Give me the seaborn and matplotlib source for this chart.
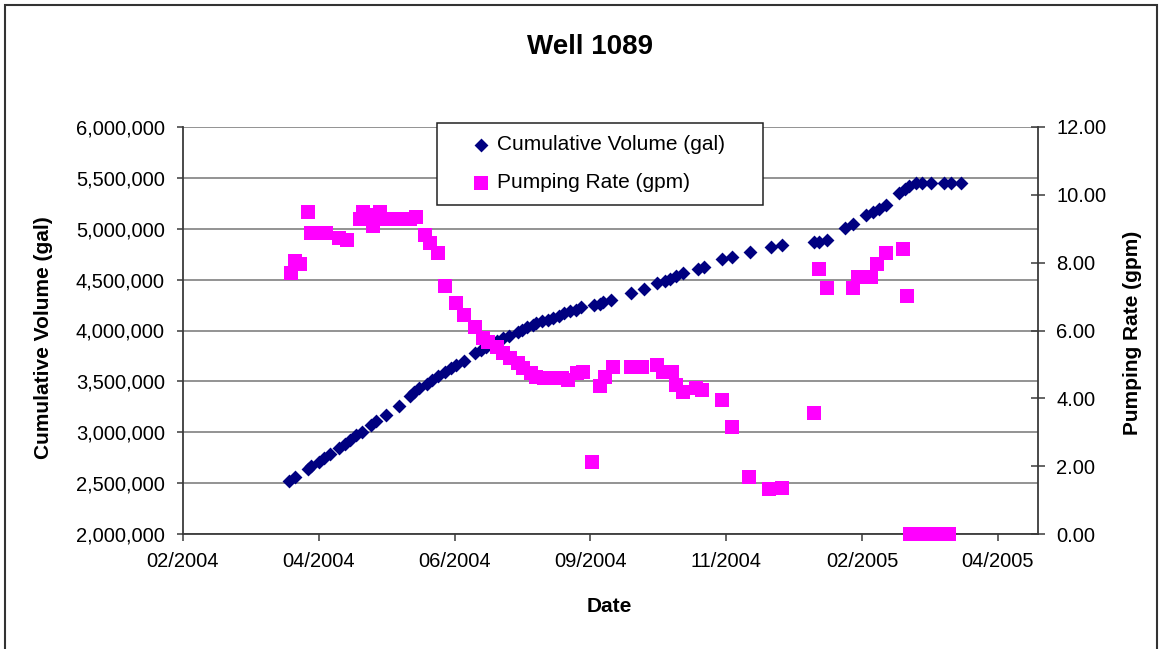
import matplotlib
matplotlib.use("Agg")
import matplotlib.pyplot as plt
import matplotlib.dates as mdates
from matplotlib.patches import Rectangle
from matplotlib.ticker import FuncFormatter, FixedLocator
import seaborn as sns
import pandas as pd
import numpy as np

# ---------------- data ----------------
vol_dates = ["2004-04-01", "2004-04-04", "2004-04-11", "2004-04-13", "2004-04-17", "2004-04-20",
             "2004-04-23", "2004-04-28", "2004-05-01", "2004-05-04", "2004-05-07", "2004-05-10",
             "2004-05-15", "2004-05-18", "2004-05-23", "2004-05-30", "2004-06-05", "2004-06-07",
             "2004-06-10", "2004-06-14", "2004-06-17", "2004-06-20", "2004-06-24", "2004-06-27",
             "2004-06-30", "2004-07-04", "2004-07-10", "2004-07-13", "2004-07-16", "2004-07-20",
             "2004-07-22", "2004-07-25", "2004-07-28", "2004-08-02", "2004-08-04", "2004-08-07",
             "2004-08-10", "2004-08-12", "2004-08-15", "2004-08-18", "2004-08-21", "2004-08-24",
             "2004-08-27", "2004-08-30", "2004-09-02", "2004-09-05", "2004-09-12", "2004-09-15",
             "2004-09-17", "2004-09-21", "2004-10-02", "2004-10-09", "2004-10-16", "2004-10-20",
             "2004-10-23", "2004-10-26", "2004-10-30", "2004-11-07", "2004-11-10", "2004-11-20",
             "2004-11-25", "2004-12-05", "2004-12-16", "2004-12-22", "2005-01-08", "2005-01-11",
             "2005-01-15", "2005-01-25", "2005-01-29", "2005-02-05", "2005-02-09", "2005-02-12",
             "2005-02-16", "2005-02-23", "2005-02-26", "2005-02-28", "2005-03-04", "2005-03-07",
             "2005-03-12", "2005-03-19", "2005-03-23", "2005-03-28"]
vol_values = [2521000, 2560000, 2639000, 2668000, 2708000, 2747000,
              2786000, 2845000, 2885000, 2924000, 2973000, 3002000,
              3071000, 3111000, 3170000, 3258000, 3356000, 3396000,
              3435000, 3474000, 3514000, 3553000, 3592000, 3631000,
              3661000, 3700000, 3779000, 3808000, 3838000, 3877000,
              3897000, 3926000, 3946000, 3985000, 4005000, 4034000,
              4054000, 4074000, 4093000, 4103000, 4123000, 4142000,
              4172000, 4192000, 4201000, 4231000, 4251000, 4260000,
              4280000, 4300000, 4369000, 4408000, 4467000, 4486000,
              4506000, 4536000, 4565000, 4604000, 4624000, 4703000,
              4722000, 4772000, 4821000, 4840000, 4870000, 4870000,
              4889000, 5007000, 5047000, 5135000, 5165000, 5194000,
              5233000, 5351000, 5391000, 5420000, 5450000, 5450000,
              5450000, 5450000, 5450000, 5450000]

rate_dates = ["2004-04-02", "2004-04-04", "2004-04-07", "2004-04-11", "2004-04-13", "2004-04-17",
              "2004-04-21", "2004-04-28", "2004-05-02", "2004-05-09", "2004-05-11", "2004-05-16",
              "2004-05-18", "2004-05-20", "2004-05-23", "2004-05-26", "2004-05-30", "2004-06-02",
              "2004-06-05", "2004-06-08", "2004-06-13", "2004-06-16", "2004-06-20", "2004-06-24",
              "2004-06-30", "2004-07-04", "2004-07-10", "2004-07-14", "2004-07-17", "2004-07-22",
              "2004-07-25", "2004-07-29", "2004-08-02", "2004-08-05", "2004-08-09", "2004-08-12",
              "2004-08-16", "2004-08-21", "2004-08-26", "2004-08-29", "2004-09-03", "2004-09-06",
              "2004-09-11", "2004-09-15", "2004-09-18", "2004-09-22", "2004-10-02", "2004-10-08",
              "2004-10-16", "2004-10-19", "2004-10-24", "2004-10-26", "2004-10-30", "2004-11-06",
              "2004-11-09", "2004-11-20", "2004-11-25", "2004-12-04", "2004-12-15", "2004-12-22",
              "2005-01-08", "2005-01-11", "2005-01-15", "2005-01-29", "2005-02-01", "2005-02-05",
              "2005-02-08", "2005-02-11", "2005-02-16", "2005-02-25", "2005-02-27", "2005-03-01",
              "2005-03-04", "2005-03-07", "2005-03-12", "2005-03-19", "2005-03-22"]
rate_values = [7.70, 8.05, 7.96, 9.49, 8.87, 8.87,
               8.87, 8.73, 8.67, 9.29, 9.49, 9.08,
               9.41, 9.49, 9.29, 9.29, 9.29, 9.29,
               9.29, 9.35, 8.82, 8.58, 8.28, 7.31,
               6.81, 6.46, 6.10, 5.78, 5.66, 5.51,
               5.34, 5.19, 5.04, 4.89, 4.75, 4.63,
               4.60, 4.60, 4.60, 4.54, 4.75, 4.78,
               2.12, 4.36, 4.63, 4.92, 4.92, 4.92,
               4.98, 4.78, 4.78, 4.39, 4.19, 4.30,
               4.25, 3.95, 3.15, 1.68, 1.33, 1.36,
               3.57, 7.81, 7.25, 7.25, 7.58, 7.58,
               7.58, 7.96, 8.28, 8.40, 7.02, 0.0,
               0.0, 0.0, 0.0, 0.0, 0.0]

title = "Well 1089"
vol_label = "Cumulative Volume (gal)"
rate_label = "Pumping Rate (gpm)"
x_label = "Date"
vol_ticks = [2000000, 2500000, 3000000, 3500000, 4000000, 4500000, 5000000, 5500000, 6000000]
rate_ticks = [0, 2, 4, 6, 8, 10, 12]
x_tick_start = "2004-02-04"
x_tick_step_days = 73
n_x_ticks = 7

# ---------------- style ----------------
sns.set_theme(style="white")
plt.rcParams['font.family'] = ['Liberation Sans', 'DejaVu Sans']
plt.rcParams['text.color'] = 'black'
plt.rcParams['axes.labelcolor'] = 'black'
plt.rcParams['xtick.color'] = 'black'
plt.rcParams['ytick.color'] = 'black'

W, H = 1163, 649
fig = plt.figure(figsize=(W / 100, H / 100), dpi=100)
fig.patch.set_facecolor("white")

def fx(px):
    return px / W

def fy(py):
    return 1 - py / H

ax = fig.add_axes([fx(183), fy(534), fx(1038) - fx(183), fy(127) - fy(534)])
ax2 = ax.twinx()

vol_df = pd.DataFrame({"date": pd.to_datetime(vol_dates), "vol": vol_values})
rate_df = pd.DataFrame({"date": pd.to_datetime(rate_dates), "rate": rate_values})

sns.scatterplot(data=vol_df, x="date", y="vol", ax=ax, marker="D", color="#000080",
                s=50, linewidth=0, label=vol_label, legend=False, zorder=3)
sns.scatterplot(data=rate_df, x="date", y="rate", ax=ax2, marker="s", color="#FF00FF",
                s=92, linewidth=0, label=rate_label, legend=False, zorder=3, clip_on=False)

# x axis
t0 = pd.Timestamp(x_tick_start)
xticks = [t0 + pd.Timedelta(days=x_tick_step_days * k) for k in range(n_x_ticks)]
ax.set_xlim(t0, t0 + pd.Timedelta(days=(1038 - 183) / 135.8 * x_tick_step_days))
ax.xaxis.set_major_locator(FixedLocator(mdates.date2num(xticks)))
ax.xaxis.set_major_formatter(mdates.DateFormatter("%m/%Y"))

ax.set_ylim(2000000, 6000000)
ax.set_yticks(vol_ticks)
ax.yaxis.set_major_formatter(FuncFormatter(lambda v, p: f"{v:,.0f}"))
ax2.set_ylim(0, 12)
ax2.set_yticks(rate_ticks)
ax2.yaxis.set_major_formatter(FuncFormatter(lambda v, p: f"{v:.2f}"))

ax.set_xlabel("")
ax.set_ylabel("")
ax2.set_ylabel("")

spine_c = "#3a3a3a"
for a in (ax, ax2):
    a.set_facecolor("none")
    a.spines["top"].set_visible(False)
    for s in ("left", "right", "bottom"):
        a.spines[s].set_color(spine_c)
        a.spines[s].set_linewidth(1.3)
ax.spines["right"].set_visible(False)
ax2.spines["left"].set_visible(False)
ax2.spines["bottom"].set_visible(False)

ax.grid(False)
ax2.grid(False)
ax.yaxis.grid(True, color="#808080", linewidth=1.2)
ax.set_axisbelow(True)

ax.tick_params(axis="y", which="major", direction="out", length=4, width=1.1, color=spine_c,
               labelsize=14.5, pad=9, labelcolor="black", left=True)
ax.tick_params(axis="x", which="major", direction="out", length=5, width=1.1, color=spine_c,
               labelsize=14.5, pad=8, labelcolor="black", bottom=True)
ax2.tick_params(axis="y", which="major", direction="inout", length=10, width=1.1, color=spine_c,
                labelsize=14.5, pad=8, labelcolor="black", right=True)

# titles & labels
fig.text(fx(590), fy(47), title, ha="center", va="center", fontsize=20, fontweight="bold",
         color="black")
fig.text(fx(609), fy(606), x_label, ha="center", va="center", fontsize=15, fontweight="bold",
         color="black")
fig.text(fx(44), fy(338), vol_label, ha="center", va="center", rotation=90, fontsize=15,
         fontweight="bold", color="black")
fig.text(fx(1133), fy(333), rate_label, ha="center", va="center", rotation=90, fontsize=15,
         fontweight="bold", color="black")

# legend
frame = Rectangle((fx(437), fy(205)), fx(763) - fx(437), fy(123) - fy(205),
                  transform=fig.transFigure, facecolor="white", edgecolor="#222222",
                  linewidth=1.1, zorder=5, clip_on=False)
ax2.add_patch(frame)
h1, l1 = ax.get_legend_handles_labels()
h2, l2 = ax2.get_legend_handles_labels()
leg = ax2.legend(h1 + h2, l1 + l2, loc="upper left", bbox_to_anchor=(fx(471), fy(135)),
                 bbox_transform=fig.transFigure, frameon=False, fontsize=15,
                 borderpad=0, handlelength=1.0, handletextpad=0.25, labelspacing=0.92,
                 borderaxespad=0)
leg.set_zorder(6)
for t in leg.get_texts():
    t.set_color("black")

# outer chart border
border = Rectangle((fx(5), -0.02), fx(1157) - fx(5), fy(5) + 0.02, transform=fig.transFigure,
                   facecolor="none", edgecolor="#333333", linewidth=1.5, clip_on=False)
fig.patches.append(border)

fig.savefig("out.png", dpi=100, facecolor="white")
